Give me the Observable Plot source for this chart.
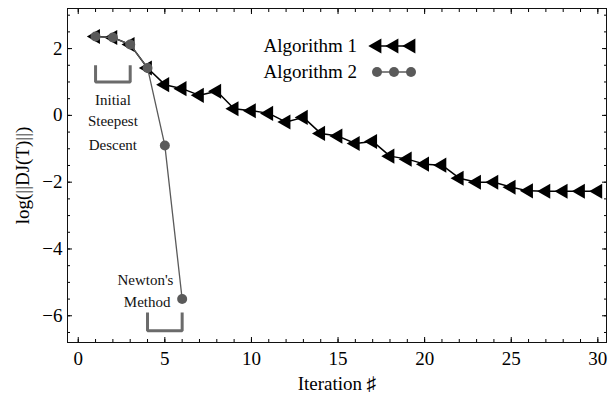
<!DOCTYPE html>
<html><head><meta charset="utf-8">
<script src="https://cdn.jsdelivr.net/npm/d3@7"></script>
<script src="https://cdn.jsdelivr.net/npm/@observablehq/plot@0.6"></script>
<style>
body{margin:0;background:#fff}
#chart{width:616px;height:394px}
</style>
</head><body><div id="chart"></div>
<script>
// ---- data ----
const alg1Iter = [1,2,3,4,5,6,7,8,9,10,11,12,13,14,15,16,17,18,19,20,21,22,23,24,25,26,27,28,29,30];
const alg1Values = [2.36,2.33,2.12,1.42,0.92,0.8,0.6,0.72,0.2,0.14,0.06,-0.2,-0.06,-0.54,-0.62,-0.84,-0.78,-1.22,-1.31,-1.46,-1.49,-1.88,-2.0,-2.0,-2.15,-2.26,-2.27,-2.27,-2.27,-2.27];
const alg2Iter = [1,2,3,4,5,6];
const alg2Values = [2.36,2.33,2.12,1.42,-0.9,-5.5];

const xTicks = [0,5,10,15,20,25,30];
const yTicks = [-6,-4,-2,0,2];
const seriesNames = ["Algorithm 1","Algorithm 2"];

// annotation brackets (data coordinates)
const bracketSteepestX = [1,1,3,3];
const bracketSteepestY = [1.5,1.0,1.0,1.5];
const bracketNewtonX = [4,4,6,6];
const bracketNewtonY = [-5.9,-6.45,-6.45,-5.9];
const noteText = ["Initial","Steepest","Descent","Newton's","Method"];
const noteX = [2,2,2,3.88,3.98];
const noteY = [0.45,-0.18,-0.9,-4.93,-5.58];

// ---- tables ----
const alg1 = alg1Iter.map((x,i)=>({x, y: alg1Values[i]}));
const alg2 = alg2Iter.map((x,i)=>({x, y: alg2Values[i]}));
const br1 = bracketSteepestX.map((x,i)=>({x, y: bracketSteepestY[i]}));
const br2 = bracketNewtonX.map((x,i)=>({x, y: bracketNewtonY[i]}));
const notes = noteText.map((t,i)=>({t, x: noteX[i], y: noteY[i]}));

const xMinor = d3.range(0, 31, 1);
const yMinor = d3.range(-6.5, 3.01, 0.5);
const FONT = "Liberation Serif";
const none = () => "";
const gray = "#5a5a5a";

const chart = Plot.plot({
  width: 616, height: 394,
  marginLeft: 67, marginRight: 10, marginTop: 8, marginBottom: 52,
  style: {fontFamily: FONT, fontSize: "19px", color: "#000", background: "#fff"},
  x: {domain: [-0.62, 30.5]},
  y: {domain: [-6.8, 3.2]},
  marks: [
    // inward ticks on all four sides
    Plot.axisX(xMinor, {anchor: "bottom", tickSize: 3, dy: -3, tickFormat: none, label: null}),
    Plot.axisX(xTicks, {anchor: "bottom", tickSize: 5, dy: -5, tickFormat: none, label: null}),
    Plot.axisX(xMinor, {anchor: "top", tickSize: 3, dy: 3, tickFormat: none, label: null}),
    Plot.axisX(xTicks, {anchor: "top", tickSize: 5, dy: 5, tickFormat: none, label: null}),
    Plot.axisY(yMinor, {anchor: "left", tickSize: 3, dx: 3, tickFormat: none, label: null}),
    Plot.axisY(yTicks, {anchor: "left", tickSize: 5, dx: 5, tickFormat: none, label: null}),
    Plot.axisY(yMinor, {anchor: "right", tickSize: 3, dx: -3, tickFormat: none, label: null}),
    Plot.axisY(yTicks, {anchor: "right", tickSize: 5, dx: -5, tickFormat: none, label: null}),
    // labels
    Plot.axisX(xTicks, {anchor: "bottom", tickSize: 0, tickPadding: 9, fontSize: 19, fontFamily: FONT,
      label: "Iteration \u266F", labelAnchor: "center", labelOffset: 47, labelArrow: "none"}),
    Plot.axisY(yTicks, {anchor: "left", tickSize: 0, tickPadding: 5, fontSize: 19, fontFamily: FONT,
      label: "log(||DJ(T)||)", labelAnchor: "center", labelOffset: 52, labelArrow: "none"}),
    Plot.frame({stroke: "#111", strokeWidth: 1}),
    // brackets
    Plot.line(br1, {x: "x", y: "y", stroke: "#6b6b6b", strokeWidth: 3, strokeLinejoin: "miter", strokeLinecap: "butt"}),
    Plot.line(br2, {x: "x", y: "y", stroke: "#6b6b6b", strokeWidth: 3, strokeLinejoin: "miter", strokeLinecap: "butt"}),
    Plot.text(notes, {x: "x", y: "y", text: "t", fontSize: 15, fontFamily: FONT, fill: "#111", textAnchor: "middle"}),
    // series
    Plot.line(alg1, {x: "x", y: "y", stroke: "#000", strokeWidth: 1.5}),
    Plot.dot(alg1, {x: "x", y: "y", symbol: "triangle", r: 5.6, fill: "#000", rotate: -90}),
    Plot.line(alg2, {x: "x", y: "y", stroke: gray, strokeWidth: 1.3}),
    Plot.dot(alg2, {x: "x", y: "y", r: 5, fill: gray})
  ]
});
document.getElementById("chart").appendChild(chart);

// ---- legend (inside plot, top) ----
const svg = d3.select(chart);
const lg = svg.append("g").attr("font-family", FONT).attr("font-size", 19);
const rows = [
  {name: seriesNames[0], y: 46, color: "#000", sym: d3.symbolTriangle, rot: -90, lw: 1.5, r: 5.6},
  {name: seriesNames[1], y: 72, color: gray, sym: d3.symbolCircle, rot: 0, lw: 1.3, r: 5}
];
const symX = [377, 394, 411];
rows.forEach(r => {
  lg.append("text").attr("x", 357).attr("y", r.y).attr("dy", "0.32em")
    .attr("text-anchor", "end").attr("fill", "#000").text(r.name);
  lg.append("line").attr("x1", symX[0]).attr("x2", symX[2]).attr("y1", r.y).attr("y2", r.y)
    .attr("stroke", r.color).attr("stroke-width", r.lw);
  symX.forEach(x => {
    lg.append("path").attr("d", d3.symbol(r.sym, r.r * r.r * Math.PI)())
      .attr("transform", `translate(${x},${r.y}) rotate(${r.rot})`)
      .attr("fill", r.color);
  });
});
</script>
</body></html>
